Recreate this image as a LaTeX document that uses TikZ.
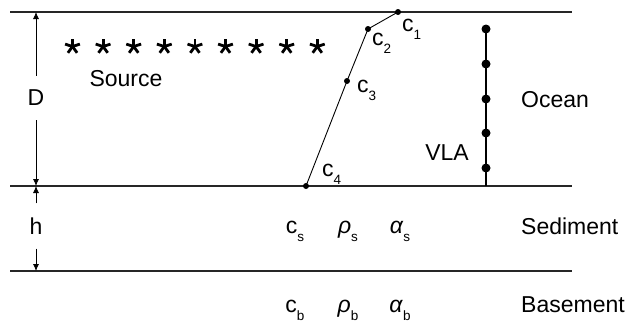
\documentclass[tikz,border=0pt]{standalone}
\usepackage{fontspec}
\setmainfont{Liberation Sans}
\usetikzlibrary{arrows.meta}
\newcommand{\lowidx}[1]{\raisebox{-0.38em}{\fontsize{13.5}{14}\selectfont #1}}
\tikzset{
  layer/.style={line width=1.4pt, draw=black!85},
  lbl/.style={inner sep=0pt, font=\fontsize{23}{27}\selectfont},
  dim/.style={line width=0.8pt, -{Latex[length=7pt,width=6pt]}},
  pdot/.style={circle, fill=black, inner sep=0pt, minimum size=6pt},
  vdot/.style={circle, fill=black, inner sep=0pt, minimum size=9pt},
  asterisk/.pic={
    \foreach \a in {90,18,162,-54,-126}
      \draw[line width=2.8pt, line cap=butt] (0,0) -- (\a:7.8);
  },
}
\begin{document}
\begin{tikzpicture}[x=1pt,y=-1pt]
\useasboundingbox (0,0) rectangle (629,324);
% layer lines
\coordinate (tl) at (10,12); \coordinate (tr) at (572,12);
\coordinate (ml) at (10,186); \coordinate (mr) at (572,186);
\coordinate (bl) at (10,271); \coordinate (br) at (572,271);
\draw[layer] (tl) -- (tr);
\draw[layer] (ml) -- (mr);
\draw[layer] (bl) -- (br);
% D dimension
\node[lbl] (D) at (36,98) {D};
\coordinate (Dt) at (36,12); \coordinate (Db) at (36,186);
\draw[dim] (D.north) ++(0,-14) coordinate (Da) -- (Dt);
\draw[dim] (D.south) ++(0,14) coordinate (Dc) -- (Db);
% h dimension
\node[lbl] (h) at (36,226) {h};
\coordinate (ht) at (36,186); \coordinate (hb) at (36,271);
\draw[dim] (h.north) ++(0,-14) coordinate (ha) -- (ht);
\draw[dim] (h.south) ++(0,14) coordinate (hc) -- (hb);
% sources
\foreach \i in {0,...,8} {
  \coordinate (s\i) at (72.5+30.6*\i,46.5);
  \pic[yscale=-1] at (s\i) {asterisk};
}
\node[lbl] (src) at (126,79) {Source};
% sound speed profile
\node[pdot] (p1) at (398,12) {};
\node[pdot] (p2) at (368,29) {};
\node[pdot] (p3) at (347,81) {};
\node[pdot] (p4) at (306,186) {};
\draw[line width=0.9pt] (p1.center) -- (p2.center) -- (p3.center) -- (p4.center);
\node[lbl, anchor=base west] (c1) at (402,31) {c\lowidx{1}};
\node[lbl, anchor=base west] (c2) at (372,45) {c\lowidx{2}};
\node[lbl, anchor=base west] (c3) at (357,92) {c\lowidx{3}};
\node[lbl, anchor=base west] (c4) at (322,176) {c\lowidx{4}};
% VLA
\coordinate (vt) at (486,29); \coordinate (vb) at (486,186);
\draw[line width=1.4pt] (vt) -- (vb);
\foreach \y [count=\k] in {29,64,99,133,168} {
  \node[vdot] (v\k) at (486,\y) {};
}
\node[lbl] (vla) at (447,153) {VLA};
\node[lbl] (ocean) at (555,100) {Ocean};
\node[lbl, anchor=west] (sed) at (521,226) {Sediment};
\node[lbl, anchor=west] (base) at (521,305) {Basement};
% parameters
\node[lbl, anchor=base] (cs) at (295,233) {c\lowidx{s}};
\node[lbl, anchor=base] (rs) at (348,233) {\textit{ρ}\lowidx{s}};
\node[lbl, anchor=base] (as) at (400,233) {\textit{α}\lowidx{s}};
\node[lbl, anchor=base] (cb) at (295,312) {c\lowidx{b}};
\node[lbl, anchor=base] (rb) at (348,312) {\textit{ρ}\lowidx{b}};
\node[lbl, anchor=base] (ab) at (400,312) {\textit{α}\lowidx{b}};
\end{tikzpicture}
\end{document}
